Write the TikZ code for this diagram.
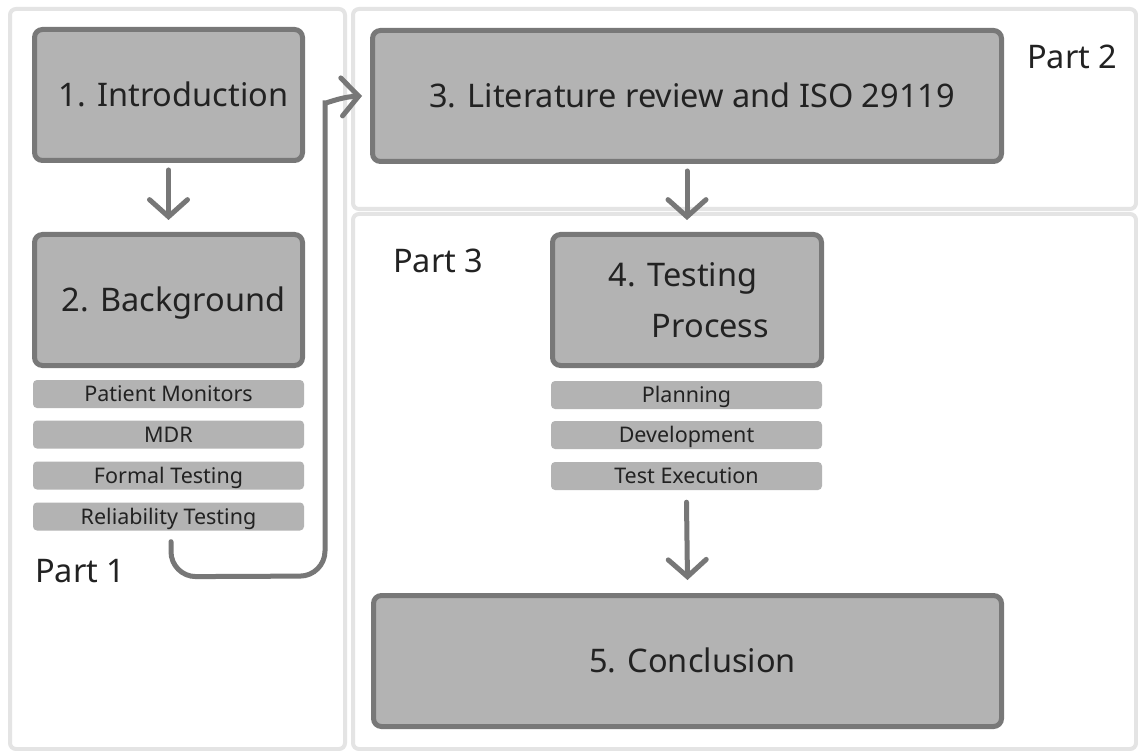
\documentclass[tikz,border=0pt]{standalone}
\usepackage{fontspec}
\setmainfont{Noto Sans}
\usetikzlibrary{arrows.meta}
\definecolor{panelline}{HTML}{E4E4E4}
\definecolor{boxfill}{HTML}{B3B3B3}
\definecolor{boxline}{HTML}{787878}
\definecolor{arrowgray}{HTML}{777777}
\definecolor{ink}{HTML}{222222}
\tikzset{
  panel/.style={draw=panelline, line width=4pt, fill=white, rounded corners=6pt},
  bigbox/.style={draw=boxline, line width=5pt, fill=boxfill, rounded corners=8pt,
    inner sep=0pt, text=ink, font=\fontsize{32.5}{51}\selectfont},
  oneline/.style={text height=23pt, text depth=0pt},
  subbox/.style={fill=boxfill, rounded corners=4pt, minimum width=271pt, minimum height=28pt,
    inner sep=0pt, text=ink, font=\fontsize{21.5}{24}\selectfont,
    text height=15.5pt, text depth=0pt},
  partlabel/.style={text=ink, inner sep=0pt, font=\fontsize{32.5}{38}\selectfont},
  flow/.style={draw=arrowgray, line width=5pt, line cap=round,
    -{Straight Barb[length=17pt, width=38pt, line cap=round]}},
}
\begin{document}
\begin{tikzpicture}[x=1pt, y=-1pt]
\useasboundingbox (0,0) rectangle (1138,751);
\fill[white] (0,0) rectangle (1138,751);

% section panels
\draw[panel] (10,9) rectangle (345,749);
\draw[panel] (353,9) rectangle (1136,209);
\draw[panel] (353,214) rectangle (1136,749);

% chapter boxes
\node[bigbox, oneline, minimum width=268pt, minimum height=131pt] (intro) at (168.5,95) {\hspace{10pt}1. Introduction};
\node[bigbox, oneline, minimum width=268pt, minimum height=131pt] (backg) at (168.5,300) {\hspace{10pt}2. Background};
\node[bigbox, oneline, minimum width=629pt, minimum height=131pt] (lit) at (687,96) {\hspace{10pt}3. Literature review and ISO 29119};
\node[bigbox, minimum width=269pt, minimum height=131pt, align=left] (proc) at (687,300)
  {\hspace{4pt}4. Testing\\\hspace{47pt}Process};
\node[bigbox, oneline, minimum width=628pt, minimum height=131pt] (concl) at (687.5,661) {\hspace{10pt}5. Conclusion};

% background topics
\node[subbox] (pm) at (168.5,394) {Patient Monitors};
\node[subbox] (mdr) at (168.5,434.5) {MDR};
\node[subbox] (ft) at (168.5,475.5) {Formal Testing};
\node[subbox] (rel) at (168.5,516.5) {Reliability Testing};

% testing process phases
\node[subbox] (plan) at (686.5,395) {Planning};
\node[subbox] (dev) at (686.5,435) {Development};
\node[subbox] (exec) at (686.5,476) {Test Execution};

% part labels
\node[partlabel, anchor=west] (p1) at (35,571) {Part 1};
\node[partlabel, anchor=west] (p2) at (1027,57) {Part 2};
\node[partlabel, anchor=west] (p3) at (393,261) {Part 3};

% flow between chapters
\draw[flow] ([yshift=-7pt]intro.south) -- ([yshift=12pt]backg.north);
\draw[flow] ([yshift=-7pt]lit.south) -- ([yshift=12pt]proc.north);
\draw[flow] ([yshift=-12pt]exec.south) -- ([yshift=13pt]concl.north);
\draw[flow, rounded corners=25pt]
  ([xshift=2.5pt, yshift=-11pt]rel.south) -- ++(0,35) -- (325,576) -- (325,128)
  [sharp corners] .. controls (325,104) and (340,97) .. ([xshift=-8pt]lit.west);
\end{tikzpicture}
\end{document}
